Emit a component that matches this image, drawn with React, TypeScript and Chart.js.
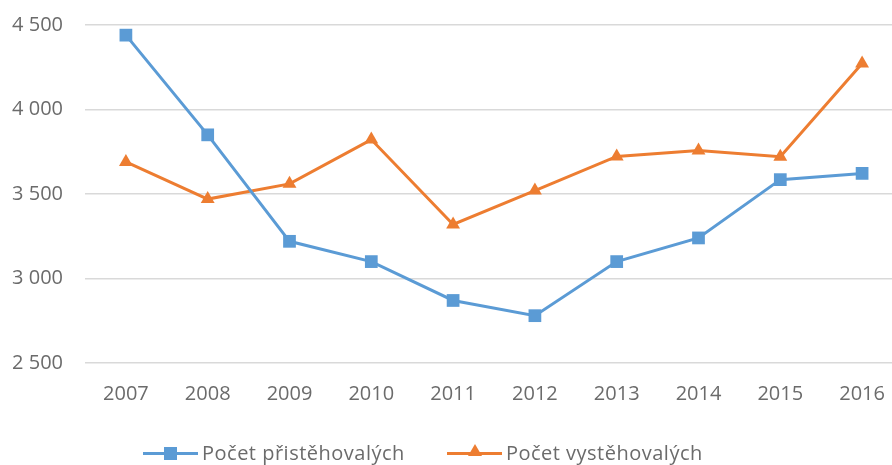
import React, { useEffect, useRef } from "react";
import { Chart, registerables } from "chart.js";

Chart.register(...registerables);

const years = ["2007", "2008", "2009", "2010", "2011", "2012", "2013", "2014", "2015", "2016"];
const immigrants = [4440, 3850, 3220, 3100, 2870, 2780, 3100, 3240, 3585, 3622];
const emigrants = [3690, 3470, 3560, 3822, 3320, 3520, 3722, 3757, 3720, 4272];
const seriesLabels = ["Počet přistěhovalých", "Počet vystěhovalých"];
const seriesColors = ["#5b9bd5", "#ed7d31"];
const yMin = 2500;
const yMax = 4500;
const yStep = 500;

const FONT = "'Open Sans', sans-serif";
const TEXT = "#6b6b6b";
const FS = 20;

function fmt(v: number) {
  return String(v).replace(/\B(?=(\d{3})+(?!\d))/g, " ");
}

export default function App() {
  const ref = useRef<HTMLCanvasElement | null>(null);

  useEffect(() => {
    if (!ref.current) return;
    const chart = new Chart(ref.current, {
      type: "line",
      data: {
        labels: years,
        datasets: [
          {
            label: seriesLabels[0],
            data: immigrants,
            borderColor: seriesColors[0],
            backgroundColor: seriesColors[0],
            borderWidth: 3,
            pointStyle: "rect",
            pointRadius: 9,
            pointBorderWidth: 0,
            tension: 0,
          },
          {
            label: seriesLabels[1],
            data: emigrants,
            borderColor: seriesColors[1],
            backgroundColor: seriesColors[1],
            borderWidth: 3,
            pointStyle: "triangle",
            pointRadius: 8,
            pointBorderWidth: 0,
            tension: 0,
          },
        ],
      },
      options: {
        responsive: false,
        animation: false,
        layout: { padding: { top: 25, right: 0, bottom: 0, left: 0 } },
        plugins: { legend: { display: false }, tooltip: { enabled: false } },
        scales: {
          x: {
            offset: true,
            grid: { display: false },
            border: { display: false },
            ticks: { color: TEXT, font: { family: FONT, size: FS }, padding: 11, maxRotation: 0 },
            afterFit: (s: any) => {
              s.height = 102;
            },
          },
          y: {
            min: yMin,
            max: yMax,
            grid: { color: "#d9d9d9", lineWidth: 1.5, drawTicks: false },
            border: { display: false },
            ticks: {
              stepSize: yStep,
              color: TEXT,
              font: { family: FONT, size: FS },
              padding: 22,
              callback: (v: any) => fmt(Number(v)),
            },
            afterFit: (s: any) => {
              s.width = 85;
              s.paddingTop = 0;
              s.paddingBottom = 0;
            },
          },
        },
      },
    });
    return () => chart.destroy();
  }, []);

  const markers = [
    <div style={{ width: 13, height: 13, background: seriesColors[0] }} />,
    <div
      style={{
        width: 0,
        height: 0,
        borderLeft: "7px solid transparent",
        borderRight: "7px solid transparent",
        borderBottom: `12px solid ${seriesColors[1]}`,
        marginTop: -3,
      }}
    />,
  ];

  return (
    <div style={{ position: "fixed", left: 0, top: 0, width: 892, height: 465, overflow: "hidden", background: "#fff" }}>
      <canvas ref={ref} width={912} height={465} style={{ display: "block", width: 912, height: 465 }} />
      <div
        style={{
          position: "absolute",
          left: 143,
          top: 439,
          display: "flex",
          alignItems: "center",
          gap: 42,
          fontFamily: FONT,
          fontSize: FS,
          letterSpacing: 0.5,
          color: TEXT,
          whiteSpace: "nowrap",
        }}
      >
        {seriesLabels.map((lab, i) => (
          <div key={lab} style={{ display: "flex", alignItems: "center" }}>
            <div style={{ position: "relative", width: 55, height: 24, marginRight: 4 }}>
              <div style={{ position: "absolute", left: 0, right: 0, top: 11, height: 3, background: seriesColors[i] }} />
              <div style={{ position: "absolute", left: 21, top: 6 }}>{markers[i]}</div>
            </div>
            <span>{lab}</span>
          </div>
        ))}
      </div>
    </div>
  );
}
